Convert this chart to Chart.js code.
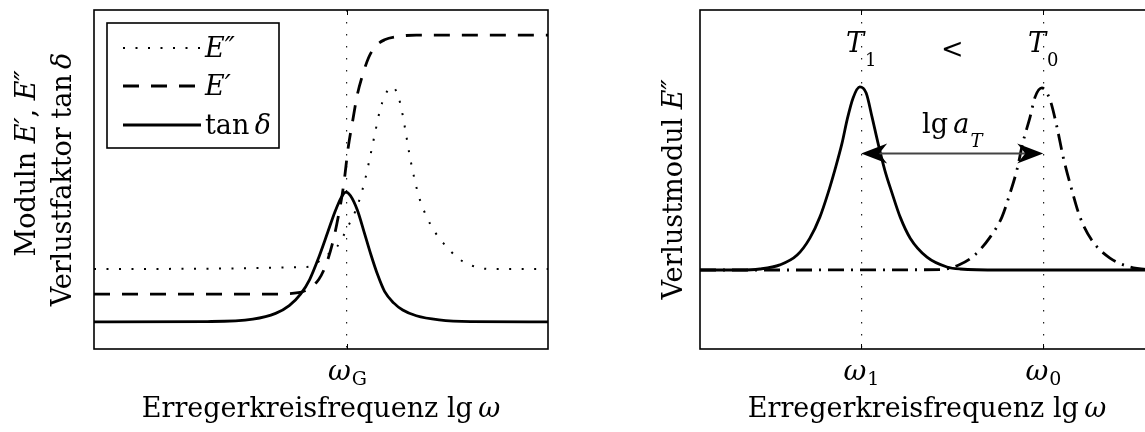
<!DOCTYPE html>
<html>
<head>
<meta charset="utf-8">
<script src="https://cdn.jsdelivr.net/npm/chart.js@4.4.1/dist/chart.umd.min.js"></script>
<style>
html, body { margin: 0; padding: 0; background: #fff; overflow: hidden; width: 1145px; height: 432px; }
#left { position: absolute; left: 0; top: 0; }
#right { position: absolute; left: 606px; top: 0; }
</style>
</head>
<body>
<canvas id="left" width="600" height="432"></canvas>
<canvas id="right" width="600" height="432"></canvas>
<script>
// ---------- data (x: lg ω in arbitrary units 0..10, y: arbitrary units 0..10) ----------
// Left chart
const lgOmegaTanDelta = [0, 2.5, 3.5, 4.0, 4.3, 4.55, 4.75, 4.95, 5.15, 5.3, 5.45, 5.55, 5.65, 5.8, 5.95, 6.1, 6.25, 6.4, 6.6, 6.8, 7.1, 7.6, 8.3, 10];
const tanDelta        = [0.80, 0.81, 0.88, 1.05, 1.28, 1.62, 2.05, 2.70, 3.45, 4.02, 4.48, 4.63, 4.52, 4.10, 3.45, 2.78, 2.18, 1.70, 1.36, 1.15, 0.98, 0.86, 0.81, 0.80];

const lgOmegaStorage  = [0, 3.9, 4.5, 4.75, 4.95, 5.1, 5.25, 5.38, 5.5, 5.6, 5.7, 5.8, 5.92, 6.05, 6.2, 6.4, 6.7, 7.1, 10];
const storageModulus  = [1.62, 1.62, 1.66, 1.80, 2.05, 2.45, 3.10, 3.90, 4.85, 5.95, 6.75, 7.50, 8.10, 8.60, 8.93, 9.12, 9.22, 9.26, 9.26];

const lgOmegaLoss     = [0, 4.69, 5.13, 5.35, 5.59, 5.81, 5.97, 6.08, 6.19, 6.30, 6.40, 6.50, 6.58, 6.66, 6.75, 6.85, 6.94, 7.05, 7.16, 7.33, 7.51, 7.69, 8.02, 8.28, 8.72, 10];
const lossModulus     = [2.36, 2.42, 2.77, 3.01, 3.60, 4.25, 4.99, 5.66, 6.37, 7.05, 7.45, 7.68, 7.73, 7.60, 7.22, 6.52, 5.80, 5.07, 4.48, 3.89, 3.45, 3.13, 2.68, 2.48, 2.36, 2.36];

const leftTickValues  = [5.57];          // ω_G
const leftTickLabels  = [['ω', 'G']];

// Right chart
const lgOmegaT1 = [0, 0.88, 1.32, 1.76, 2.14, 2.42, 2.64, 2.82, 2.97, 3.13, 3.24, 3.37, 3.52, 3.66, 3.79, 3.92, 4.07, 4.23, 4.41, 4.63, 5.00, 5.44, 5.73, 6.61, 10];
const lossT1    = [2.33, 2.33, 2.36, 2.48, 2.77, 3.27, 3.89, 4.60, 5.28, 6.08, 6.76, 7.40, 7.73, 7.55, 6.84, 6.08, 5.28, 4.60, 3.89, 3.27, 2.71, 2.42, 2.36, 2.33, 2.33];

const lgOmegaT0 = [0, 5.29, 5.70, 6.05, 6.39, 6.65, 6.83, 6.98, 7.11, 7.27, 7.38, 7.53, 7.71, 7.86, 8.00, 8.19, 8.37, 8.63, 9.03, 9.47, 10];
const lossT0    = [2.33, 2.34, 2.48, 2.77, 3.30, 3.89, 4.60, 5.28, 6.08, 6.84, 7.43, 7.70, 7.35, 6.56, 5.66, 4.69, 3.89, 3.21, 2.68, 2.42, 2.33];

const rightTickValues = [3.55, 7.56];    // ω_1, ω_0
const rightTickLabels = [['ω', '1'], ['ω', '0']];
const tempLabels      = [['T', '1'], ['T', '0']];

// annotation levels (y units)
const arrowLevel = 5.78;
const tempLabelLevel = 8.76;
const shiftLabelLevel = 6.37;

// ---------- helpers ----------
const FAM = '"DejaVu Serif", serif';
const SZ = 27, SUB = 18;
const rm = s => `${s}px ${FAM}`;
const it = s => `italic ${s}px ${FAM}`;

function richWidth(ctx, segs) {
  let w = 0;
  for (const s of segs) { ctx.font = s.font; w += ctx.measureText(s.t).width + (s.dx || 0); }
  return w;
}
function drawRich(ctx, segs, x, y, align) {
  ctx.textAlign = 'left'; ctx.textBaseline = 'alphabetic';
  const w = richWidth(ctx, segs);
  let cx = align === 'center' ? x - w / 2 : (align === 'right' ? x - w : x);
  for (const s of segs) {
    ctx.font = s.font;
    cx += (s.dx || 0);
    ctx.fillText(s.t, cx, y + (s.dy || 0));
    cx += ctx.measureText(s.t).width;
  }
}
function seg(ctx, x1, y1, x2, y2) { ctx.beginPath(); ctx.moveTo(x1, y1); ctx.lineTo(x2, y2); ctx.stroke(); }
function pts(xs, ys) { return xs.map((v, i) => ({ x: v, y: ys[i] })); }

function drawFrame(chart, tickVals, tickLabels) {
  const { ctx, chartArea: a, scales: { x } } = chart;
  ctx.save();
  ctx.setLineDash([]);
  ctx.strokeStyle = '#000';
  ctx.lineWidth = 1.6;
  ctx.strokeRect(a.left, a.top, a.right - a.left, a.bottom - a.top);
  ctx.lineWidth = 1;
  ctx.fillStyle = '#000';
  tickVals.forEach((v, i) => {
    const px = Math.round(x.getPixelForValue(v)) + 0.5;
    seg(ctx, px, a.bottom, px, a.bottom - 5);
    seg(ctx, px, a.top, px, a.top + 5);
    const [main, sub] = tickLabels[i];
    drawRich(ctx, [{ t: main, font: it(SZ + 1) }, { t: sub, font: rm(SUB + 1), dy: 5, dx: 1 }], px, a.bottom + 31, 'center');
  });
  drawRich(ctx, [{ t: 'Erregerkreisfrequenz lg\u2009', font: rm(SZ) }, { t: 'ω', font: it(SZ) }],
           (a.left + a.right) / 2, 417, 'center');
  ctx.restore();
}
function drawRotated(ctx, segs, bx, cy) {
  ctx.save();
  ctx.translate(bx, cy);
  ctx.rotate(-Math.PI / 2);
  drawRich(ctx, segs, 0, 0, 'center');
  ctx.restore();
}

const baseOptions = (tickVals) => ({
  responsive: false,
  animation: false,
  devicePixelRatio: 1,
  layout: { padding: { left: 94, right: 52, top: 10, bottom: 83 } },
  plugins: { legend: { display: false }, tooltip: { enabled: false } },
  elements: { point: { radius: 0 }, line: { cubicInterpolationMode: 'monotone', borderCapStyle: 'butt', fill: false } },
  scales: {
    x: {
      type: 'linear', min: 0, max: 10, display: true,
      afterBuildTicks: s => { s.ticks = tickVals.map(v => ({ value: v })); },
      ticks: { display: false },
      grid: { drawTicks: false, color: '#222', lineWidth: 1.2 },
      border: { display: false, dash: [1.5, 10.5] },
      title: { display: false }
    },
    y: { type: 'linear', min: 0, max: 10, display: false }
  }
});

// ---------- left chart ----------
const leftDatasets = [
  { label: 'E″', data: pts(lgOmegaLoss, lossModulus), borderColor: '#000', borderWidth: 2, borderDash: [2, 10.5] },
  { label: 'E′', data: pts(lgOmegaStorage, storageModulus), borderColor: '#000', borderWidth: 2.8, borderDash: [16, 12] },
  { label: 'tan δ', data: pts(lgOmegaTanDelta, tanDelta), borderColor: '#000', borderWidth: 2.8, borderDash: [] }
];
const legendLabels = [
  [{ t: 'E″', font: it(SZ) }],
  [{ t: 'E′', font: it(SZ) }],
  [{ t: 'tan\u2009', font: rm(SZ) }, { t: 'δ', font: it(SZ) }]
];

new Chart(document.getElementById('left'), {
  type: 'line',
  data: { datasets: leftDatasets },
  options: baseOptions(leftTickValues),
  plugins: [{
    id: 'leftDeco',
    afterDraw(chart) {
      const { ctx } = chart;
      drawFrame(chart, leftTickValues, leftTickLabels);
      ctx.save();
      ctx.fillStyle = '#000';
      const cy = (chart.chartArea.top + chart.chartArea.bottom) / 2;
      drawRotated(ctx, [{ t: 'Moduln ', font: rm(SZ) }, { t: 'E′', font: it(SZ) }, { t: ', ', font: rm(SZ) }, { t: 'E″', font: it(SZ) }], 35, cy - 16);
      drawRotated(ctx, [{ t: 'Verlustfaktor tan\u2009', font: rm(SZ) }, { t: 'δ', font: it(SZ) }], 71, cy);
      // legend box
      const L = { x0: 107, y0: 23, x1: 279, y1: 148 };
      ctx.fillStyle = '#fff';
      ctx.fillRect(L.x0, L.y0, L.x1 - L.x0, L.y1 - L.y0);
      ctx.setLineDash([]);
      ctx.strokeStyle = '#000';
      ctx.lineWidth = 1.6;
      ctx.strokeRect(L.x0, L.y0, L.x1 - L.x0, L.y1 - L.y0);
      const rowY = [48, 86, 125];
      chart.data.datasets.forEach((ds, i) => {
        ctx.save();
        ctx.strokeStyle = ds.borderColor;
        ctx.lineWidth = ds.borderWidth;
        ctx.lineCap = 'butt';
        ctx.setLineDash(ds.borderDash || []);
        seg(ctx, 123, rowY[i], 201, rowY[i]);
        ctx.restore();
        ctx.fillStyle = '#000';
        drawRich(ctx, legendLabels[i], 205, rowY[i] + 9, 'left');
      });
      ctx.restore();
    }
  }]
});

// ---------- right chart ----------
function arrowHead(ctx, tipX, y, dir) {
  const L = 26, W = 10, notch = 18;
  ctx.beginPath();
  ctx.moveTo(tipX, y);
  ctx.lineTo(tipX + dir * L, y - W);
  ctx.lineTo(tipX + dir * notch, y);
  ctx.lineTo(tipX + dir * L, y + W);
  ctx.closePath();
  ctx.fill();
}

new Chart(document.getElementById('right'), {
  type: 'line',
  data: {
    datasets: [
      { label: 'T1', data: pts(lgOmegaT1, lossT1), borderColor: '#000', borderWidth: 2.8, borderDash: [] },
      { label: 'T0', data: pts(lgOmegaT0, lossT0), borderColor: '#000', borderWidth: 2.8, borderDash: [16, 7, 2, 7] }
    ]
  },
  options: baseOptions(rightTickValues),
  plugins: [{
    id: 'rightDeco',
    afterDraw(chart) {
      const { ctx, scales: { x, y } } = chart;
      drawFrame(chart, rightTickValues, rightTickLabels);
      ctx.save();
      ctx.fillStyle = '#000';
      const cy = (chart.chartArea.top + chart.chartArea.bottom) / 2;
      drawRotated(ctx, [{ t: 'Verlustmodul ', font: rm(SZ) }, { t: 'E″', font: it(SZ) }], 76, cy + 10);
      // temperature labels
      const ty = y.getPixelForValue(tempLabelLevel);
      rightTickValues.forEach((v, i) => {
        const [m, s] = tempLabels[i];
        drawRich(ctx, [{ t: m, font: it(SZ) }, { t: s, font: rm(SUB), dy: 14, dx: 1 }], x.getPixelForValue(v), ty, 'center');
      });
      const mid = (rightTickValues[0] + rightTickValues[1]) / 2;
      drawRich(ctx, [{ t: '<', font: rm(SZ) }], x.getPixelForValue(mid), ty + 6, 'center');
      drawRich(ctx, [{ t: 'lg\u2009', font: rm(SZ) }, { t: 'a', font: it(SZ) }, { t: 'T', font: it(SUB), dy: 14, dx: 1 }],
               x.getPixelForValue(mid), y.getPixelForValue(shiftLabelLevel), 'center');
      // double arrow
      const ay = Math.round(y.getPixelForValue(arrowLevel)) + 0.5;
      const x1 = x.getPixelForValue(rightTickValues[0]);
      const x2 = x.getPixelForValue(rightTickValues[1]);
      ctx.strokeStyle = '#444';
      ctx.lineWidth = 1.8;
      ctx.setLineDash([]);
      seg(ctx, x1 + 18, ay, x2 - 18, ay);
      ctx.fillStyle = '#000';
      arrowHead(ctx, x1, ay, 1);
      arrowHead(ctx, x2, ay, -1);
      ctx.restore();
    }
  }]
});
</script>
</body>
</html>
